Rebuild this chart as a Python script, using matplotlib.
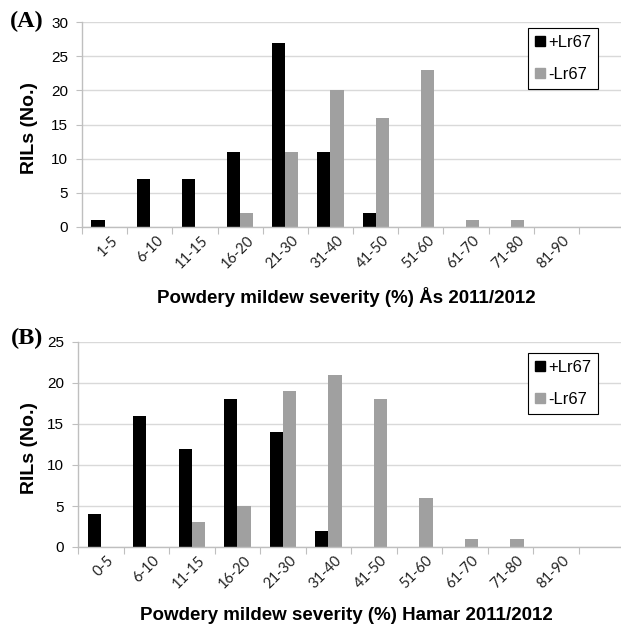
#!/usr/bin/env python3
"""Powdery mildew severity histograms for RILs with/without Lr67 (Ås and Hamar)."""
import matplotlib
matplotlib.use('Agg')
import matplotlib.pyplot as plt
from matplotlib.lines import Line2D
import numpy as np

# --- data ---
cats_as = ['1-5', '6-10', '11-15', '16-20', '21-30', '31-40', '41-50',
           '51-60', '61-70', '71-80', '81-90', '']
plus_as = [1, 7, 7, 11, 27, 11, 2, 0, 0, 0, 0, 0]
minus_as = [0, 0, 0, 2, 11, 20, 16, 23, 1, 1, 0, 0]

cats_hamar = ['0-5', '6-10', '11-15', '16-20', '21-30', '31-40', '41-50',
              '51-60', '61-70', '71-80', '81-90', '']
plus_hamar = [4, 16, 12, 18, 14, 2, 0, 0, 0, 0, 0, 0]
minus_hamar = [0, 0, 3, 5, 19, 21, 18, 6, 1, 1, 0, 0]

BLACK = '#000000'
GRAY = '#a0a0a0'
GRID = '#d9d9d9'
SPINE = '#bfbfbf'
W = 621
H = 629

fig = plt.figure(figsize=(W / 100, H / 100), dpi=100)


def panel(rect, cats, plus, minus, ymax, xlabel, tag, tag_y, xlabel_y, leg_top):
    ax = fig.add_axes(rect)
    x = np.arange(len(cats))
    bw = 0.29
    ax.bar(x + 0.5 - bw / 2, plus, width=bw, color=BLACK, linewidth=0)
    ax.bar(x + 0.5 + bw / 2, minus, width=bw, color=GRAY, linewidth=0)

    ax.set_xlim(0, 11.93)
    ax.set_ylim(0, ymax)
    ax.set_yticks(np.arange(0, ymax + 1, 5))
    ax.yaxis.grid(True, color=GRID, linewidth=1)
    ax.set_axisbelow(True)
    for s in ['top', 'right']:
        ax.spines[s].set_visible(False)
    for s in ['left', 'bottom']:
        ax.spines[s].set_color(SPINE)
        ax.spines[s].set_linewidth(1)
    ax.tick_params(axis='y', length=4, color=SPINE, labelsize=11, pad=6)

    # category boundaries carry the tick marks, labels sit at the centres
    ax.set_xticks(np.arange(0, len(cats)))
    ax.set_xticklabels([])
    ax.tick_params(axis='x', length=5, color=SPINE)
    for i, c in enumerate(cats):
        ax.text(i + 0.64, -0.03, c, transform=ax.get_xaxis_transform(),
                rotation=45, rotation_mode='anchor', ha='right', va='top',
                fontsize=10.5, family='Lato', color='#222222')
    for lab in ax.get_yticklabels():
        lab.set_family('Liberation Sans')

    fig.text(29 / W, rect[1] + rect[3] / 2 - 4 / H, 'RILs (No.)', rotation=90,
             ha='center', va='center', fontsize=14, fontweight='bold',
             family='Liberation Sans')
    fig.text(346 / W, 1 - xlabel_y / H, xlabel, ha='center', va='center',
             fontsize=13.5, fontweight='bold', family='Liberation Sans')
    fig.text(27 / W, 1 - tag_y / H, tag, ha='center', va='center',
             fontsize=17.5, fontweight='bold', family='Liberation Serif')

    handles = [Line2D([], [], marker='s', linestyle='none', color=BLACK,
                      markersize=7),
               Line2D([], [], marker='s', linestyle='none', color=GRAY,
                      markersize=7)]
    leg = fig.legend(handles, ['+Lr67', '-Lr67'], loc='upper left',
                     bbox_to_anchor=(528 / W, 1 - leg_top / H),
                     bbox_transform=fig.transFigure, frameon=True,
                     fancybox=False, framealpha=1, edgecolor='#000000',
                     prop={'family': 'Liberation Sans', 'size': 12},
                     handlelength=0.6, handletextpad=0.2, labelspacing=1.05,
                     borderpad=0.4, borderaxespad=0)
    leg.get_frame().set_linewidth(0.8)
    return ax


# top panel: y=30 at 22px, y=0 at 227px
panel([82 / W, 1 - 227 / H, 1 - 82 / W, 205 / H], cats_as, plus_as, minus_as,
      30, 'Powdery mildew severity (%) Ås 2011/2012', '(A)', 21, 297, 28)

# bottom panel: y=25 at 342px, y=0 at 547px
panel([78 / W, 1 - 547 / H, 1 - 78 / W, 205 / H], cats_hamar, plus_hamar,
      minus_hamar, 25, 'Powdery mildew severity (%) Hamar 2011/2012', '(B)',
      338, 616, 353)

plt.savefig('out.png', dpi=100)
print('Wrote out.png')
